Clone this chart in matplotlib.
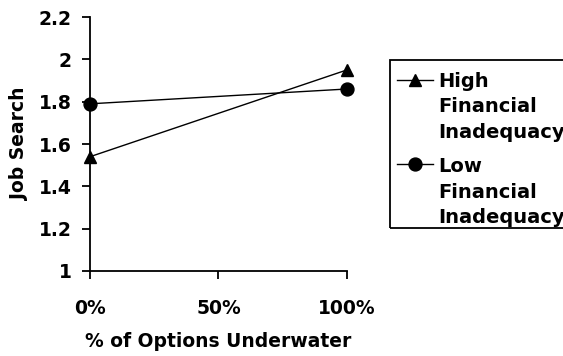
import matplotlib.pyplot as plt
from matplotlib.lines import Line2D
from matplotlib.patches import Rectangle

plt.rcParams['font.family'] = ['DejaVu Sans']
plt.rcParams['font.weight'] = 'bold'

# % of options underwater
x = [0, 100]
high_fin = [1.54, 1.95]
low_fin = [1.79, 1.86]
series_names = [['High', 'Financial', 'Inadequacy'],
                ['Low', 'Financial', 'Inadequacy']]
series_markers = ['^', 'o']
xticks = [0, 50, 100]
xlabels = ['0%', '50%', '100%']
yticks = [1, 1.2, 1.4, 1.6, 1.8, 2, 2.2]
ylabels = ['1', '1.2', '1.4', '1.6', '1.8', '2', '2.2']

FS = 13.5
W, H = 563, 356

fig = plt.figure(figsize=(W / 100, H / 100), dpi=100)
ax = fig.add_axes([0.160, 0.239, 0.456, 0.713])

ax.plot(x, high_fin, color='black', lw=1.0, marker='^', ms=8.5,
        clip_on=False, zorder=3)
ax.plot(x, low_fin, color='black', lw=1.0, marker='o', ms=9.3,
        clip_on=False, zorder=3)

ax.set_xlim(0, 100)
ax.set_ylim(1, 2.2)
ax.set_xticks(xticks)
ax.set_xticklabels(xlabels)
ax.set_yticks(yticks)
ax.set_yticklabels(ylabels)
ax.tick_params(axis='both', labelsize=FS, width=1.3, length=5.5, direction='out')
ax.tick_params(axis='x', pad=15)
ax.tick_params(axis='y', pad=8)
for s in ['top', 'right']:
    ax.spines[s].set_visible(False)
for s in ['left', 'bottom']:
    ax.spines[s].set_linewidth(1.3)

ax.set_xlabel('% of Options Underwater', fontsize=FS, fontweight='bold', labelpad=10)
ax.set_ylabel('Job Search', fontsize=FS, fontweight='bold', labelpad=7)

# legend box drawn by hand so the handle sits on the first line of each label
def fx(px):
    return px / W

def fy(py):
    return 1 - py / H

fig.add_artist(Rectangle((fx(390), fy(228)), fx(200), (228 - 60) / H,
                         transform=fig.transFigure, fill=False,
                         edgecolor='black', lw=1.3))
first_base = [87, 172]
line_step = 25.5
ms = [8.5, 9.3]
for names, mk, base, m in zip(series_names, series_markers, first_base, ms):
    hy = fy(base - 7.5)
    fig.add_artist(Line2D([fx(397), fx(415), fx(433)], [hy, hy, hy],
                          transform=fig.transFigure, color='black', lw=1.0,
                          marker=mk, ms=m, markevery=[1]))
    for i, name in enumerate(names):
        fig.text(fx(438), fy(base + i * line_step), name, fontsize=14,
                 fontweight='bold', va='baseline', ha='left')

fig.savefig('out.png', dpi=100)
